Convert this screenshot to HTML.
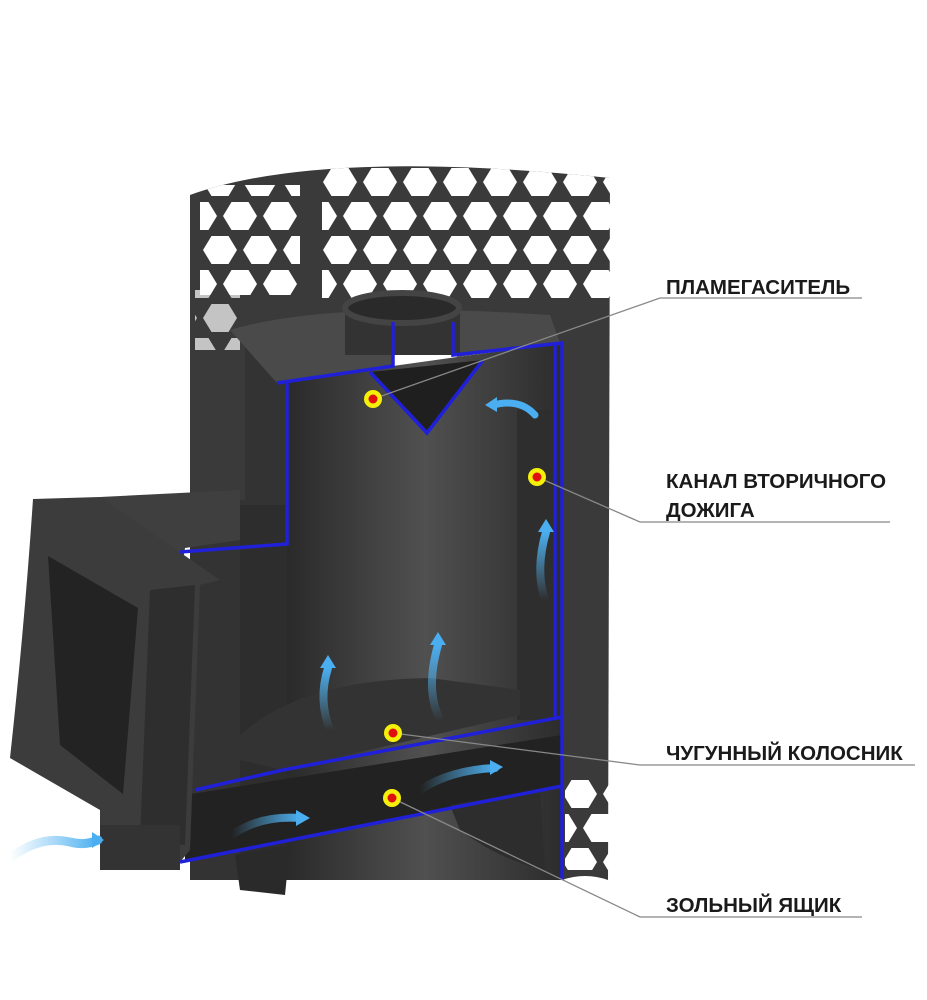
<!DOCTYPE html>
<html><head><meta charset="utf-8"><style>
html,body{margin:0;padding:0;background:#fff;}
svg{display:block}
text{font-family:"Liberation Sans",sans-serif;font-weight:bold;font-size:20.5px;fill:#1a1a1a}
</style></head><body>
<svg width="927" height="1000" viewBox="0 0 927 1000" xmlns="http://www.w3.org/2000/svg">
<defs>
<pattern id="hex" x="0" y="165" width="40" height="68" patternUnits="userSpaceOnUse">
<polygon points="11.5,3 28.5,3 37,17 28.5,31 11.5,31 3,17" fill="#fff"/>
<polygon points="31.5,37 48.5,37 57,51 48.5,65 31.5,65 23,51" fill="#fff"/>
<polygon points="-8.5,37 8.5,37 17,51 8.5,65 -8.5,65 -17,51" fill="#fff"/>
</pattern>
<linearGradient id="inner" x1="0" x2="1" y1="0" y2="0">
<stop offset="0" stop-color="#2a2a2a"/><stop offset="0.5" stop-color="#505050"/><stop offset="1" stop-color="#2c2c2c"/>
</linearGradient>
<linearGradient id="arr" x1="0" x2="1"><stop offset="0" stop-color="#5ab8f0" stop-opacity="0"/><stop offset="1" stop-color="#4aaef0"/></linearGradient>
<linearGradient id="arrv" x1="0" x2="0" y1="1" y2="0"><stop offset="0" stop-color="#5ab8f0" stop-opacity="0"/><stop offset="1" stop-color="#4aaef0"/></linearGradient>
<clipPath id="shellclip"><path d="M190,195 Q320,148 610,178 L610,880 L190,880 Z"/></clipPath>
</defs>

<!-- outer shell -->
<path d="M190,195 Q320,148 610,178 L608,880 Q585,872 562,880 L562,345 L245,345 L245,505 L190,505 Z" fill="#3a3a3a"/>
<rect x="322" y="160" width="288" height="140" fill="url(#hex)" clip-path="url(#shellclip)"/>
<rect x="200" y="185" width="100" height="110" fill="url(#hex)" clip-path="url(#shellclip)"/>
<rect x="195" y="290" width="45" height="60" fill="url(#hex)" opacity="0.7"/>
<rect x="565" y="780" width="45" height="90" fill="url(#hex)"/>
<rect x="245" y="340" width="50" height="170" fill="#333"/>

<!-- top plate -->
<path d="M230,330 Q330,300 550,315 L560,343 L457,357 L453,345 L393,355 L393,366 L277,383 Z" fill="#4a4a4a"/>
<!-- chimney -->
<rect x="345" y="305" width="115" height="50" fill="#333"/>
<ellipse cx="402" cy="308" rx="57" ry="15" fill="#2a2a2a" stroke="#444" stroke-width="6"/>

<!-- inner firebox -->
<path d="M287,383 L393,366 L457,357 L562,343 L562,880 L287,880 Z" fill="url(#inner)"/>
<path d="M370,372 L427,433 L483,360 Z" fill="#1f1f1f"/>
<rect x="517" y="410" width="38" height="310" fill="#2e2e2e"/>
<rect x="190" y="500" width="97" height="380" fill="#333"/>
<rect x="240" y="505" width="47" height="370" fill="#2d2d2d"/>
<!-- grate -->
<path d="M240,735 Q300,680 430,678 L520,690 L520,715 L283,770 L240,760 Z" fill="#333"/>
<!-- ash channel -->
<path d="M185,795 L562,735 L562,786 L185,862 Z" fill="#222"/>
<path d="M235,855 L290,845 L285,895 L240,890 Z" fill="#2a2a2a"/>
<path d="M450,805 L540,790 L545,870 Q500,860 460,830 Z" fill="#2d2d2d"/>

<!-- firebox door -->
<path d="M100,497 L240,490 L240,540 L185,548 L180,580 Z" fill="#3f3f3f"/>
<path d="M33,499 L100,497 L220,580 L200,585 L190,850 L175,868 L100,835 L100,810 L10,758 Q25,620 33,499 Z" fill="#3c3c3c"/>
<path d="M48,556 L138,608 L123,794 L60,745 Z" fill="#232323"/>
<path d="M150,590 L195,585 L185,845 L140,840 Z" fill="#2e2e2e"/>
<rect x="100" y="825" width="80" height="45" fill="#333"/>

<!-- blue section lines -->
<g stroke="#2020d8" stroke-width="3.5" fill="none">
<path d="M277,383 L393,366 L393,322"/>
<path d="M453,322 L453,355 L562,343 L562,880"/>
<path d="M370,372 L427,433 L483,360"/>
<path d="M287,383 L287,544 L180,552"/>
<path d="M195,790 L283,770 L562,717"/>
<path d="M180,862 L562,786"/>
<path d="M555,345 L555,720"/>
</g>

<!-- arrows -->
<g stroke-linecap="round" fill="none">
<path d="M10,858 Q40,835 70,842 Q85,846 98,840" stroke="url(#arr)" stroke-width="9"/>
<path d="M232,835 Q260,815 300,818" stroke="url(#arr)" stroke-width="8"/>
<path d="M420,790 Q450,770 495,768" stroke="url(#arr)" stroke-width="8"/>
<path d="M330,730 Q318,700 328,668" stroke="url(#arrv)" stroke-width="8"/>
<path d="M440,720 Q425,690 438,645" stroke="url(#arrv)" stroke-width="8"/>
<path d="M545,600 Q535,570 546,532" stroke="url(#arrv)" stroke-width="8"/>
<path d="M535,415 Q520,398 493,405" stroke="#4aaef0" stroke-width="7"/>
</g>
<g fill="#4aaef0">
<polygon points="92,832 104,840 92,848"/>
<polygon points="296,810 310,818 296,826"/>
<polygon points="490,760 503,767 490,775"/>
<polygon points="320,668 328,655 336,668"/>
<polygon points="430,645 438,632 446,645"/>
<polygon points="538,532 546,519 554,532"/>
<polygon points="497,397 485,405 497,412"/>
</g>

<!-- leader lines -->
<g stroke="#888" stroke-width="1.3" fill="none">
<path d="M373,399 L660,298 L862,298"/>
<path d="M537,477 L640,522 L890,522"/>
<path d="M393,733 L640,765 L915,765"/>
<path d="M392,798 L640,917 L862,917"/>
</g>
<g>
<circle cx="373" cy="399" r="9" fill="#f5f00a"/><circle cx="373" cy="399" r="4.5" fill="#e01010"/>
<circle cx="537" cy="477" r="9" fill="#f5f00a"/><circle cx="537" cy="477" r="4.5" fill="#e01010"/>
<circle cx="393" cy="733" r="9" fill="#f5f00a"/><circle cx="393" cy="733" r="4.5" fill="#e01010"/>
<circle cx="392" cy="798" r="9" fill="#f5f00a"/><circle cx="392" cy="798" r="4.5" fill="#e01010"/>
</g>

<text x="666" y="294">ПЛАМЕГАСИТЕЛЬ</text>
<text x="666" y="488">КАНАЛ ВТОРИЧНОГО</text>
<text x="666" y="517">ДОЖИГА</text>
<text x="666" y="760">ЧУГУННЫЙ КОЛОСНИК</text>
<text x="666" y="912">ЗОЛЬНЫЙ ЯЩИК</text>
</svg>
</body></html>
